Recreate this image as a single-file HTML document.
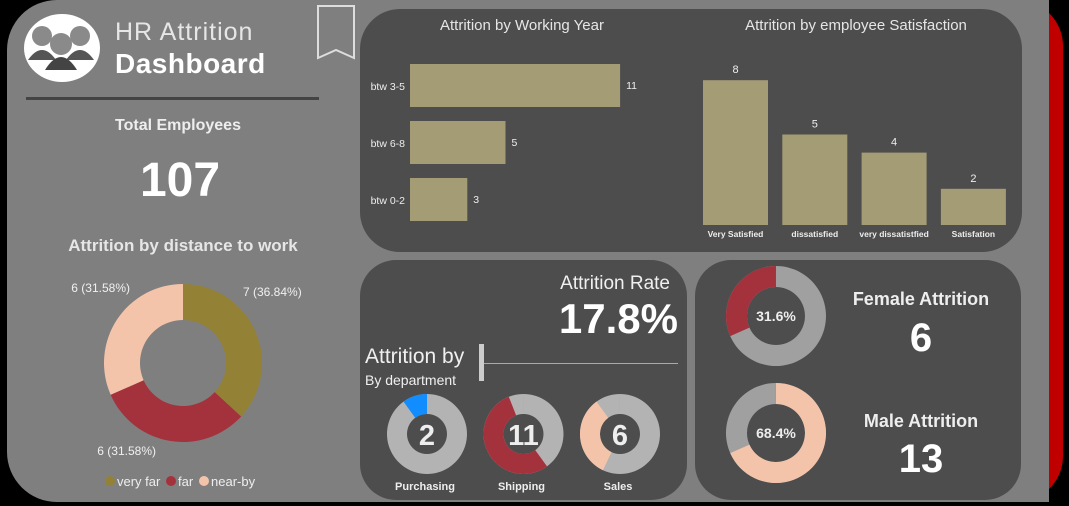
<!DOCTYPE html>
<html><head><meta charset="utf-8">
<style>
html,body{margin:0;padding:0;background:#000;width:1069px;height:506px;overflow:hidden;font-family:"Liberation Sans",sans-serif}
svg{display:block}
</style></head>
<body>
<svg id="c" width="1069" height="506" xmlns="http://www.w3.org/2000/svg">
  <rect x="20" y="0" width="1043" height="502" rx="46" fill="#c00000"/>
  <rect x="7" y="0" width="1042" height="502" rx="50" fill="#7f7f7f"/>
  <rect x="990" y="0" width="59" height="502" fill="#7f7f7f"/>
  <!-- logo -->
  <g>
    <ellipse cx="62" cy="48" rx="38" ry="34" fill="#fff"/>
    <circle cx="42" cy="36" r="10" fill="#8a8a8a"/><circle cx="80" cy="36" r="10" fill="#8a8a8a"/>
    <path d="M28 60 q14 -20 28 0 z" fill="#555"/><path d="M66 60 q14 -20 28 0 z" fill="#555"/>
    <circle cx="61" cy="44" r="11" fill="#8a8a8a"/><path d="M45 70 q16 -26 32 0 z" fill="#444"/>
  </g>
  <text x="115" y="40" font-size="25" fill="#e6e6e6" letter-spacing="1">HR Attrition</text>
  <text x="115" y="73" font-size="28" font-weight="bold" fill="#fff" letter-spacing="0.5">Dashboard</text>
  <path d="M318 6 h36 v52 l-18 -8 l-18 8 z" fill="none" stroke="#ddd" stroke-width="2"/>
  <rect x="26" y="97" width="293" height="3" fill="#444"/>
  <text x="178" y="130" font-size="16" font-weight="bold" fill="#eee" text-anchor="middle">Total Employees</text>
  <text x="180" y="196" font-size="48" font-weight="bold" fill="#fff" text-anchor="middle">107</text>
  <text x="183" y="251" font-size="17" font-weight="bold" fill="#e6e6e6" text-anchor="middle">Attrition by distance to work</text>
  <g id="dist"></g>
  <g>
    <circle cx="110" cy="481" r="5" fill="#938235"/><text x="117" y="486" font-size="13" fill="#eee">very far</text>
    <circle cx="171" cy="481" r="5" fill="#a4323c"/><text x="178" y="486" font-size="13" fill="#eee">far</text>
    <circle cx="204" cy="481" r="5" fill="#f4c4aa"/><text x="211" y="486" font-size="13" fill="#eee">near-by</text>
  </g>
  <!-- top panel -->
  <rect x="360" y="9" width="662" height="243" rx="40" fill="#4d4d4d"/>
  <text x="522" y="30" font-size="15" fill="#e6e6e6" text-anchor="middle">Attrition by Working Year</text>
  <text x="856" y="30" font-size="15" fill="#e6e6e6" text-anchor="middle">Attrition by employee Satisfaction</text>
  <g id="hbar"></g>
  <g id="vbar"></g>
  <!-- bottom left -->
  <rect x="360" y="260" width="327" height="240" rx="36" fill="#4d4d4d"/>
  <text x="670" y="289" font-size="19" fill="#f0f0f0" text-anchor="end">Attrition Rate</text>
  <text x="678" y="333" font-size="42" font-weight="bold" fill="#fff" text-anchor="end">17.8%</text>
  <text x="365" y="363" font-size="21" fill="#f0f0f0">Attrition by</text>
  <text x="365" y="385" font-size="14" fill="#f0f0f0">By department</text>
  <rect x="479" y="344" width="5" height="37" fill="#ccc"/>
  <rect x="484" y="363" width="194" height="1" fill="#aaa"/>
  <g id="dept"></g>
  <!-- bottom right -->
  <rect x="695" y="260" width="326" height="240" rx="36" fill="#4d4d4d"/>
  <g id="gender"></g>
  <text x="921" y="305" font-size="18" font-weight="bold" fill="#eee" text-anchor="middle">Female Attrition</text>
  <text x="921" y="351" font-size="40" font-weight="bold" fill="#fff" text-anchor="middle">6</text>
  <text x="921" y="427" font-size="18" font-weight="bold" fill="#eee" text-anchor="middle">Male Attrition</text>
  <text x="921" y="472" font-size="40" font-weight="bold" fill="#fff" text-anchor="middle">13</text>
</svg>
<script>
const distLabels=["very far","far","near-by"];
const distValues=[7,6,6];
const distText=["7 (36.84%)","6 (31.58%)","6 (31.58%)"];
const yearCats=["btw 3-5","btw 6-8","btw 0-2"];
const yearValues=[11,5,3];
const satCats=["Very Satisfied","dissatisfied","very dissatistfied","Satisfation"];
const satValues=[8,5,4,2];
const deptCats=["Purchasing","Shipping","Sales"];
const deptValues=[2,11,6];
const deptShare=[0.10,0.54,0.33];
const genderCats=["Female","Male"];
const genderShare=[0.316,0.684];
const NS="http://www.w3.org/2000/svg";
function mk(p,t,a){const e=document.createElementNS(NS,t);for(const k in a)e.setAttribute(k,a[k]);p.appendChild(e);return e;}
function arc(cx,cy,R,r,a0,a1){const f=a=>[Math.sin(a*2*Math.PI),-Math.cos(a*2*Math.PI)];
 const [s0,c0]=f(a0),[s1,c1]=f(a1),L=(a1-a0)>0.5?1:0;
 return `M${cx+R*s0} ${cy+R*c0} A${R} ${R} 0 ${L} 1 ${cx+R*s1} ${cy+R*c1} L${cx+r*s1} ${cy+r*c1} A${r} ${r} 0 ${L} 0 ${cx+r*s0} ${cy+r*c0}Z`;}
// distance donut
const dg=document.getElementById('dist');const dcol=["#938235","#a4323c","#f4c4aa"];
const dTot=distValues.reduce((a,b)=>a+b,0);let acc=0;
const lblPos=[[243,296,"start"],[156,455,"end"],[130,292,"end"]];
distValues.forEach((v,i)=>{const a0=acc/dTot,a1=(acc+v)/dTot;acc+=v;
 const p=mk(dg,'path',{d:arc(183,363,79,43,a0,a1),fill:dcol[i]});
 
 
 const t=mk(dg,'text',{x:lblPos[i][0],y:lblPos[i][1],'font-size':12,fill:'#f0f0f0','text-anchor':lblPos[i][2]});t.textContent=distText[i];
 
 });
// horizontal bars
const hg=document.getElementById('hbar');const hx=v=>410+v*19.1;
yearCats.forEach((c,i)=>{const y=64+i*57;
 const r=mk(hg,'rect',{x:410,y:y,width:hx(yearValues[i])-410,height:43,fill:'#a49c74'});
 
 
 const l=mk(hg,'text',{x:405,y:y+26,'font-size':10.5,fill:'#eee','text-anchor':'end'});l.textContent=c;
 
 
 const v=mk(hg,'text',{x:hx(yearValues[i])+6,y:y+25,'font-size':10.5,fill:'#eee'});v.textContent=yearValues[i];
 
 });
// vertical bars
const vg=document.getElementById('vbar');const vy=v=>225-v*18.1;
satCats.forEach((c,i)=>{const x=703+i*79.3;
 const r=mk(vg,'rect',{x:x,y:vy(satValues[i]),width:65,height:225-vy(satValues[i]),fill:'#a49c74'});
 
 
 const v=mk(vg,'text',{x:x+32.5,y:vy(satValues[i])-7,'font-size':11,fill:'#eee','text-anchor':'middle'});v.textContent=satValues[i];
 
 
 const l=mk(vg,'text',{x:x+32.5,y:237,'font-size':8.5,'font-weight':'bold',fill:'#eee','text-anchor':'middle'});l.textContent=c;
 
 });
// department donuts
const pg=document.getElementById('dept');const dc=["#118dff","#a4323c","#f4c4aa"];
deptCats.forEach((c,i)=>{const cx=427+i*96.5,cy=434;
 const bg=mk(pg,'path',{d:arc(cx,cy,40,20,0,0.9999),fill:'#b3b3b3'});
 
 
 const st=i==1?0.4:(i==2?0.57:1-deptShare[0]);
 const p=mk(pg,'path',{d:arc(cx,cy,40,20,st,st+deptShare[i]),fill:dc[i]});
 
 
 const n=mk(pg,'text',{x:cx,y:cy+11,'font-size':29,'font-weight':'bold',fill:'#eee','text-anchor':'middle'});n.textContent=deptValues[i];
 
 
 const l=mk(pg,'text',{x:cx-2,y:cy+56,'font-size':11,'font-weight':'bold',fill:'#eee','text-anchor':'middle'});l.textContent=c;
 
 });
// gender donuts
const gg=document.getElementById('gender');const gc=["#a4323c","#f4c4aa"];
genderCats.forEach((c,i)=>{const cx=776,cy=316+i*117;
 const bg=mk(gg,'path',{d:arc(cx,cy,50,29,0,0.9999),fill:'#a0a0a0'});
 
 
 const a0=i==0?1-genderShare[0]:0,a1=i==0?0.9999:genderShare[1];
 const p=mk(gg,'path',{d:arc(cx,cy,50,29,a0,a1),fill:gc[i]});
 
 
 const t=mk(gg,'text',{x:cx,y:cy+5,'font-size':14,'font-weight':'bold',fill:'#eee','text-anchor':'middle'});t.textContent=(genderShare[i]*100).toFixed(1)+'%';
 
 });
</script>
</body></html>
